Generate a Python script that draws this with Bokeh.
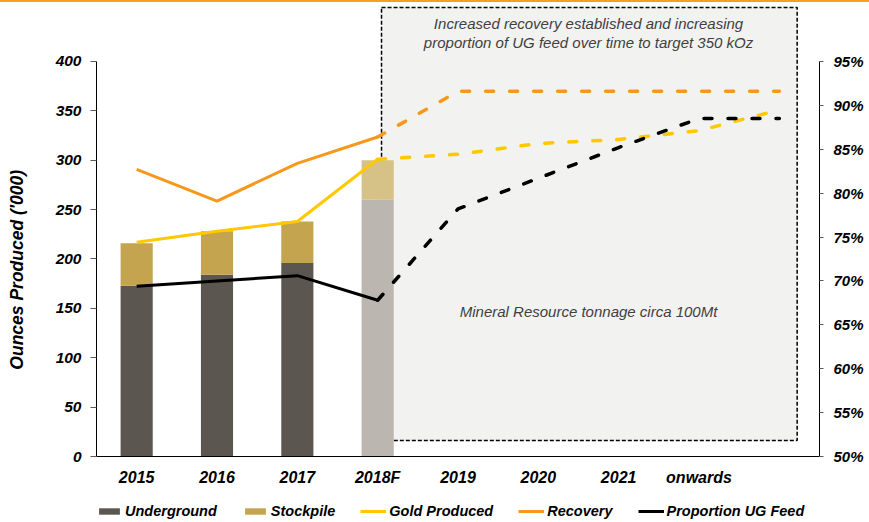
from bokeh.plotting import figure
from bokeh.models import (Range1d, LinearAxis, FactorRange, BoxAnnotation, Label, Legend,
                          LegendItem, ColumnDataSource, FixedTicker, PrintfTickFormatter)
from bokeh.layouts import column
from bokeh.embed import file_html
from bokeh.resources import INLINE

# ---------------- data ----------------
categories = ["2015", "2016", "2017", "2018F", "2019", "2020", "2021", "onwards", " "]
bar_years = ["2015", "2016", "2017", "2018F"]
underground = [173, 184, 196, 260]
stockpile = [43, 44, 42, 40]
gold_produced = [217, 228, 238, 301, 306, 317, 321, 330, 351]
recovery = [82.7, 79.1, 83.4, 86.4, 91.6, 91.6, 91.6, 91.6, 91.6]
ug_feed = [69.4, 70.0, 70.6, 67.8, 78.2, 81.7, 85.2, 88.5, 88.5]
left_ticks = [0, 50, 100, 150, 200, 250, 300, 350, 400]
right_ticks = [50, 55, 60, 65, 70, 75, 80, 85, 90, 95]

# ---------------- styles ----------------
ug_colors = ["#5C5650", "#5C5650", "#5C5650", "#BBB6B0"]
sp_colors = ["#C4A44E", "#C4A44E", "#C4A44E", "#D6C186"]
C_UGBAR = "#5C5650"
C_SP = "#C4A44E"
C_GOLD = "#FFC800"
C_REC = "#F7981D"
C_UG = "#000000"
FONT = "Liberation Sans"
N_SOLID = 4  # actual years, drawn solid; forecast drawn dashed

p = figure(width=869, height=490, output_backend="svg", toolbar_location=None,
           x_range=FactorRange(factors=categories), y_range=Range1d(0, 461.77),
           min_border_left=96, min_border_right=50, min_border_top=0, min_border_bottom=34)
p.extra_y_ranges = {"pct": Range1d(50, 101.95)}
p.outline_line_color = None
p.xgrid.visible = False
p.ygrid.visible = False
p.background_fill_color = None
p.border_fill_color = None
p.styles = {"box-shadow": "inset 0 2px 0 0 #F7A11A"}

# annotation box (forecast period)
box = BoxAnnotation(left=3.548, right=8.722, bottom=16.2, top=454.7,
                    fill_color="#F2F2F0", fill_alpha=1.0, line_color="black", line_alpha=1.0,
                    line_width=1.5, line_dash="4 2", level="underlay")
p.add_layout(box)

# bars
total = [u + s for u, s in zip(underground, stockpile)]
src = ColumnDataSource(dict(year=bar_years, ug=underground, total=total,
                            ugc=ug_colors, spc=sp_colors))
p.vbar(x="year", bottom=0, top="ug", width=0.4, fill_color="ugc", line_color=None, source=src)
p.vbar(x="year", bottom="ug", top="total", width=0.4, fill_color="spc", line_color=None, source=src)

# lines
dash_kw = dict(line_width=3.5, line_dash="8 16", line_cap="round", line_join="round")
solid_kw = dict(line_width=3, line_join="round")

p.line(categories[:N_SOLID], gold_produced[:N_SOLID], line_color=C_GOLD, **solid_kw)
p.line(categories[N_SOLID - 1:], gold_produced[N_SOLID - 1:], line_color=C_GOLD, **dash_kw)
p.line(categories[:N_SOLID], recovery[:N_SOLID], line_color=C_REC, y_range_name="pct", **solid_kw)
p.line(categories[N_SOLID - 1:], recovery[N_SOLID - 1:], line_color=C_REC, y_range_name="pct", **dash_kw)
p.line(categories[:N_SOLID], ug_feed[:N_SOLID], line_color=C_UG, y_range_name="pct", **solid_kw)
p.line(categories[N_SOLID - 1:], ug_feed[N_SOLID - 1:], line_color=C_UG, y_range_name="pct", **dash_kw)

# axes
NB = "\u00a0" * 17
left_ax = p.yaxis[0]
left_ax.ticker = FixedTicker(ticks=left_ticks)
left_ax.bounds = (0, 400)
left_ax.axis_label = "Ounces Produced ('000)" + NB
left_ax.axis_label_standoff = 26
ax_r = LinearAxis(y_range_name="pct", ticker=FixedTicker(ticks=right_ticks), bounds=(50, 95),
                  formatter=PrintfTickFormatter(format="%d%%"))
p.add_layout(ax_r, "right")

for ax in [left_ax, ax_r]:
    ax.major_label_text_font = FONT
    ax.major_label_text_font_style = "bold italic"
    ax.major_label_text_font_size = "15.5px"
    ax.major_label_text_color = "black"
    ax.minor_tick_line_color = None
    ax.major_tick_in = 0
    ax.axis_line_color = "black"
    ax.major_tick_line_color = "#595959"
    ax.axis_label_text_font = FONT
    ax.axis_label_text_font_style = "bold italic"
    ax.axis_label_text_font_size = "17.5px"
    ax.axis_label_text_color = "black"
left_ax.major_tick_out = 6
left_ax.major_label_standoff = 9
ax_r.major_tick_out = 4
ax_r.major_label_standoff = 10
ax_r.major_label_text_font_size = "15px"

xa = p.xaxis[0]
xa.major_tick_line_color = None
xa.minor_tick_line_color = None
xa.axis_line_color = "black"
xa.major_label_standoff = 6
xa.major_label_text_font = FONT
xa.major_label_text_font_style = "bold italic"
xa.major_label_text_font_size = "16px"
xa.major_label_text_color = "black"

# texts
txt_kw = dict(text_align="center", text_baseline="middle", text_font=FONT,
              text_font_style="italic", text_font_size="15px", text_color="#404040")
p.add_layout(Label(x=6.125, y=438.5, text="Increased recovery established and increasing", **txt_kw))
p.add_layout(Label(x=6.125, y=419.2, text="proportion of UG feed over time to target 350 kOz", **txt_kw))
p.add_layout(Label(x=6.125, y=147.0, text="Mineral Resource tonnage circa 100Mt", **txt_kw))

# legend strip below the chart (legend-only renderers carrying the same styles,
# their single mark lies outside the strip's range so only the legend shows)
lg = figure(width=869, height=32, output_backend="svg", toolbar_location=None,
            x_range=Range1d(0, 1), y_range=Range1d(0, 1), x_axis_type=None, y_axis_type=None,
            min_border=0)
lg.outline_line_color = None
lg.xgrid.visible = False
lg.ygrid.visible = False
lg.background_fill_color = None
lg.border_fill_color = None
g_ug = lg.vbar(x=[-5], top=[-4], bottom=[-5], width=0.1, fill_color=C_UGBAR, line_color=None)
g_sp = lg.vbar(x=[-5], top=[-4], bottom=[-5], width=0.1, fill_color=C_SP, line_color=None)
g_gold = lg.line(x=[-6, -5], y=[-5, -5], line_color=C_GOLD, line_width=3)
g_rec = lg.line(x=[-6, -5], y=[-5, -5], line_color=C_REC, line_width=3)
g_ugf = lg.line(x=[-6, -5], y=[-5, -5], line_color=C_UG, line_width=3)

legend = Legend(items=[
    LegendItem(label="Underground", renderers=[g_ug]),
    LegendItem(label="Stockpile", renderers=[g_sp]),
    LegendItem(label="Gold Produced", renderers=[g_gold]),
    LegendItem(label="Recovery", renderers=[g_rec]),
    LegendItem(label="Proportion UG Feed", renderers=[g_ugf]),
], location=(0, 3), orientation="horizontal", padding=0, margin=0, spacing=25,
    glyph_width=26, glyph_height=8, label_standoff=3, label_height=14,
    label_text_font=FONT, label_text_font_style="bold italic", label_text_font_size="14.5px",
    label_text_color="black", border_line_alpha=0, background_fill_alpha=0)
lg.add_layout(legend, "center")

layout = column(p, lg, spacing=0)
open("out.html", "w").write(file_html(layout, INLINE))
